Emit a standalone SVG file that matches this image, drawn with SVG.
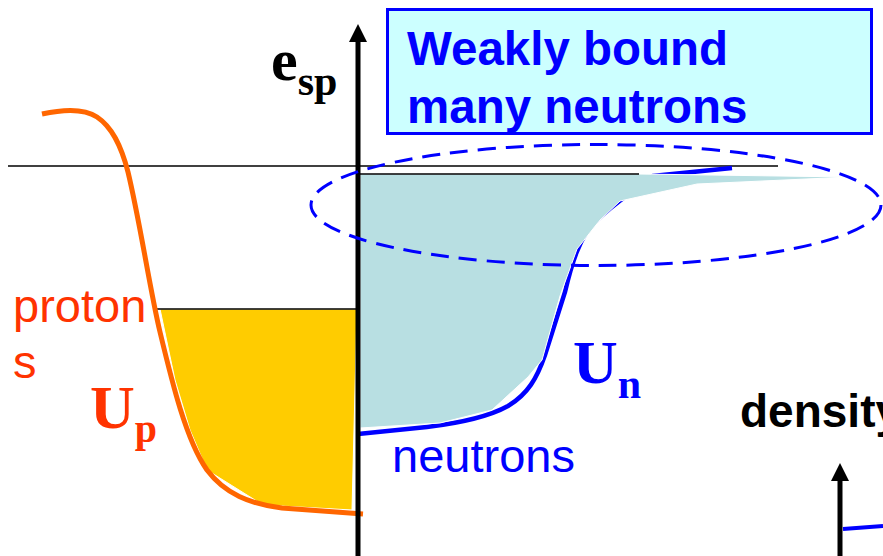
<svg xmlns="http://www.w3.org/2000/svg" width="883" height="556" viewBox="0 0 883 556">
<style>
.sans{font-family:"Liberation Sans",Arial,sans-serif}
.serif{font-family:"Liberation Serif","Times New Roman",serif;font-weight:bold}
.thin{stroke:#000;stroke-width:1.5;fill:none}
.axis{stroke:#000;stroke-width:5;fill:none}
</style>
<defs>
<marker id="ah" markerWidth="20" markerHeight="20" refX="0" refY="0" orient="auto" markerUnits="userSpaceOnUse" viewBox="0 -10 20 20">
<path d="M0,-9 L18,0 L0,9 Z" fill="#000"/>
</marker>
</defs>
<rect width="883" height="556" fill="#fff"/>
<g id="zero-line"><line class="thin" x1="8" y1="166" x2="778" y2="166" stroke="#333"/></g>
<g id="neutron-well">
<path d="M358,434 L427,427 C460,423 490,416 508,406 C528,394 537,378 545,355 L565,292 C572,262 580,237 595,222 C610,207 622,199 640,186 L653,176 L732,168" fill="none" stroke="#0000FF" stroke-width="4.5"/>
<path d="M360,174 L639,174 L850,177 L697,184 L620,201 L600,220 L577,249 L560,296 L542,360 L528,377 L492,410 L440,423 L360,428 Z" fill="#B8DFE2" stroke="#fff" stroke-width="1"/>
<line class="thin" x1="360" y1="174" x2="639" y2="174"/>
</g>
<g id="proton-well">
<path d="M160,309 L357,309 L352,510 L263,505 L207,470 L190,430 L175,380 Z" fill="#FFCC00" stroke="#fff" stroke-width="1"/>
<line class="thin" x1="157" y1="309" x2="357" y2="309"/>
<path d="M42,114 C60,110 82,107 97,117 C112,127 121,145 128,172 C140,222 150,290 160,332 C172,382 186,440 207,470 C225,494 250,504 282,508 L363,514" fill="none" stroke="#FF6600" stroke-width="5"/>
</g>
<g id="axis"><line class="axis" x1="358" y1="556" x2="358" y2="42" marker-end="url(#ah)"/></g>
<g id="halo-ellipse"><ellipse cx="596" cy="205" rx="285" ry="60.5" fill="none" stroke="#0000FF" stroke-width="3" stroke-dasharray="18 10"/></g>
<g id="title-box">
<rect x="387.5" y="9.5" width="484" height="124" fill="#CCFFFF" stroke="#0000FF" stroke-width="3"/>
<text class="sans" x="407" y="65" font-size="47.5" font-weight="bold" fill="#0000FF">Weakly bound</text>
<text class="sans" x="407" y="123" font-size="47.5" font-weight="bold" fill="#0000FF">many neutrons</text>
</g>
<g id="esp-label"><text class="serif" x="271" y="80" font-size="60" fill="#000">e<tspan font-size="42" y="95">sp</tspan></text></g>
<g id="protons-label">
<text class="sans" x="13" y="322" font-size="47" fill="#FF3300">proton</text>
<text class="sans" x="13" y="378" font-size="47" fill="#FF3300">s</text>
</g>
<g id="Up-label"><text class="serif" x="90" y="428" font-size="62" fill="#FF3300">U<tspan font-size="40" y="442">p</tspan></text></g>
<g id="Un-label"><text class="serif" x="573" y="383" font-size="62" fill="#0000FF">U<tspan font-size="42" y="398">n</tspan></text></g>
<g id="neutrons-label"><text class="sans" x="392" y="472" font-size="47" fill="#0000FF">neutrons</text></g>
<g id="density-plot">
<text class="sans" x="740" y="427" font-size="46" font-weight="bold" fill="#000">density</text>
<line class="axis" x1="840" y1="556" x2="840" y2="481" marker-end="url(#ah)"/>
<line x1="843" y1="529" x2="883" y2="526" stroke="#0000FF" stroke-width="4"/>
</g>
</svg>
